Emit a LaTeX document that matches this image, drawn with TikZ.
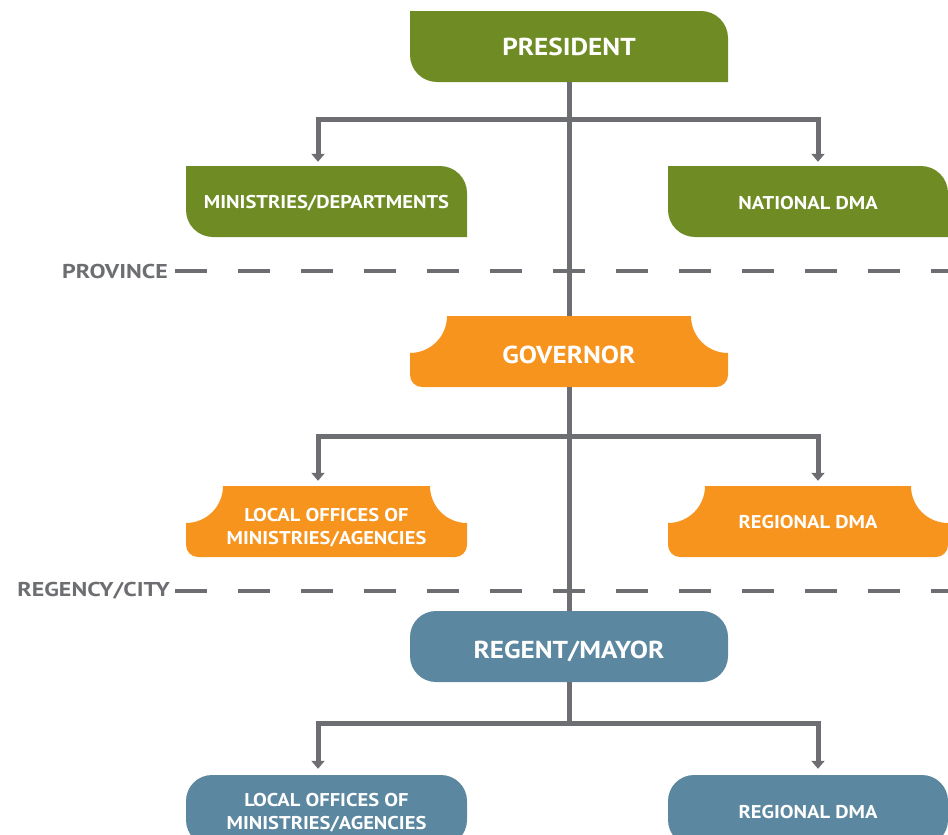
\documentclass[tikz,border=0pt]{standalone}
\usepackage{fontspec}
\setmainfont{PT Sans}
\newfontfamily\boxfont{PT Sans}[FakeStretch=1.11]
\newfontfamily\lvlfont{PT Sans}[FakeStretch=1.2]
\usetikzlibrary{positioning,arrows.meta}

\definecolor{natgreen}{HTML}{6F8B24}
\definecolor{provorange}{HTML}{F7941E}
\definecolor{cityblue}{HTML}{5B87A0}
\definecolor{linegray}{HTML}{6D6E71}

\tikzset{
  box/.style={inner sep=0pt, text=white, align=center, minimum height=71pt,
    font=\boxfont\bfseries\fontsize{18.5}{23}\selectfont},
  headbox/.style={box, minimum width=318pt, font=\boxfont\bfseries\fontsize{24.5}{28}\selectfont},
  sidebox/.style={box, minimum width=281pt},
  textpos/.style 2 args={text height=#1, text depth=#2},
  % green: corners cut round at top right and bottom left
  greenbox/.style={path picture={
    \fill[natgreen] (path picture bounding box.north west)
      -- ([xshift=-27pt]path picture bounding box.north east)
      arc[start angle=90, end angle=0, radius=27pt]
      -- (path picture bounding box.south east)
      -- ([xshift=27pt]path picture bounding box.south west)
      arc[start angle=270, end angle=180, radius=27pt] -- cycle;}},
  % orange: scooped top corners, small round bottom corners
  orangebox/.style={path picture={
    \fill[provorange] ([yshift=-37pt]path picture bounding box.north west)
      arc[start angle=270, end angle=360, radius=37pt]
      -- ([xshift=-37pt]path picture bounding box.north east)
      arc[start angle=180, end angle=270, radius=37pt]
      -- ([yshift=12pt]path picture bounding box.south east)
      arc[start angle=0, end angle=-90, radius=12pt]
      -- ([xshift=12pt]path picture bounding box.south west)
      arc[start angle=270, end angle=180, radius=12pt] -- cycle;}},
  bluebox/.style={fill=cityblue, rounded corners=26pt},
  lvl/.style={inner sep=0pt, text=linegray, font=\lvlfont\bfseries\fontsize{20}{24}\selectfont},
  conn/.style={draw=linegray, line width=5pt},
  arr/.style={conn, -{Triangle[width=13pt, length=8pt]}},
  dashline/.style={draw=linegray, line width=4pt, dash pattern=on 32pt off 31pt}
}

\begin{document}
\begin{tikzpicture}[x=1pt, y=1pt, node distance=155pt]
\useasboundingbox (0,0) rectangle (948,-835);
\clip (0,0) rectangle (948,-835);

% national
\node[headbox, greenbox, textpos={17pt}{0pt}] (pres) at (569,-46.5) {PRESIDENT};
\node[sidebox, greenbox, textpos={13pt}{0pt}, below of=pres, xshift=-242.5pt] (mins) {MINISTRIES/DEPARTMENTS};
\node[sidebox, greenbox, textpos={15pt}{0pt}, below of=pres, xshift=239pt, minimum width=280pt] (natdma) {NATIONAL DMA};

% province
\node[headbox, orangebox, textpos={23pt}{0pt}, below of=pres, node distance=305pt] (gov) {GOVERNOR};
\node[sidebox, orangebox, textpos={45pt}{0pt}, below of=gov, node distance=170pt, xshift=-242.5pt] (provoff) {LOCAL OFFICES OF\\MINISTRIES/AGENCIES};
\node[sidebox, orangebox, textpos={14pt}{0pt}, below of=gov, node distance=170pt, xshift=239pt, minimum width=280pt] (regdma) {REGIONAL DMA};

% regency / city
\node[headbox, bluebox, textpos={24pt}{0pt}, below of=gov, node distance=295pt] (mayor) {REGENT/MAYOR};
\node[sidebox, bluebox, textpos={37pt}{0pt}, below of=mayor, node distance=164pt, xshift=-242.5pt] (cityoff) {LOCAL OFFICES OF\\MINISTRIES/AGENCIES};
\node[sidebox, bluebox, textpos={16pt}{0pt}, below of=mayor, node distance=164pt, xshift=239pt, minimum width=280pt] (citydma) {REGIONAL DMA};

% level lines
\node[lvl, anchor=east] (prov) at (168,-271) {PROVINCE};
\node[lvl, anchor=east] (city) at (170,-591) {REGENCY/CITY};
\draw[dashline] ([xshift=7pt]prov.east) -- (prov.east -| natdma.east);
\draw[dashline] ([xshift=5pt]city.east) -- (city.east -| natdma.east);

% spine
\draw[conn] (pres) -- (gov);
\draw[conn] (gov) -- (mayor);

% forks
\coordinate[below=37pt of pres.south] (natfork);
\draw[conn] (pres.south) -- (natfork);
\draw[arr] (natfork) -| ([xshift=-8.5pt, yshift=4pt]mins.north);
\draw[arr] (natfork) -| ([xshift=10pt, yshift=4pt]natdma.north);

\coordinate[below=49pt of gov.south] (provfork);
\draw[arr] (provfork) -| ([xshift=-8.5pt, yshift=5pt]provoff.north);
\draw[arr] (provfork) -| ([xshift=10pt, yshift=5pt]regdma.north);

\coordinate[below=41pt of mayor.south] (cityfork);
\draw[conn] (mayor.south) -- (cityfork);
\draw[arr] (cityfork) -| ([xshift=-8.5pt, yshift=6pt]cityoff.north);
\draw[arr] (cityfork) -| ([xshift=10pt, yshift=6pt]citydma.north);
\end{tikzpicture}
\end{document}
